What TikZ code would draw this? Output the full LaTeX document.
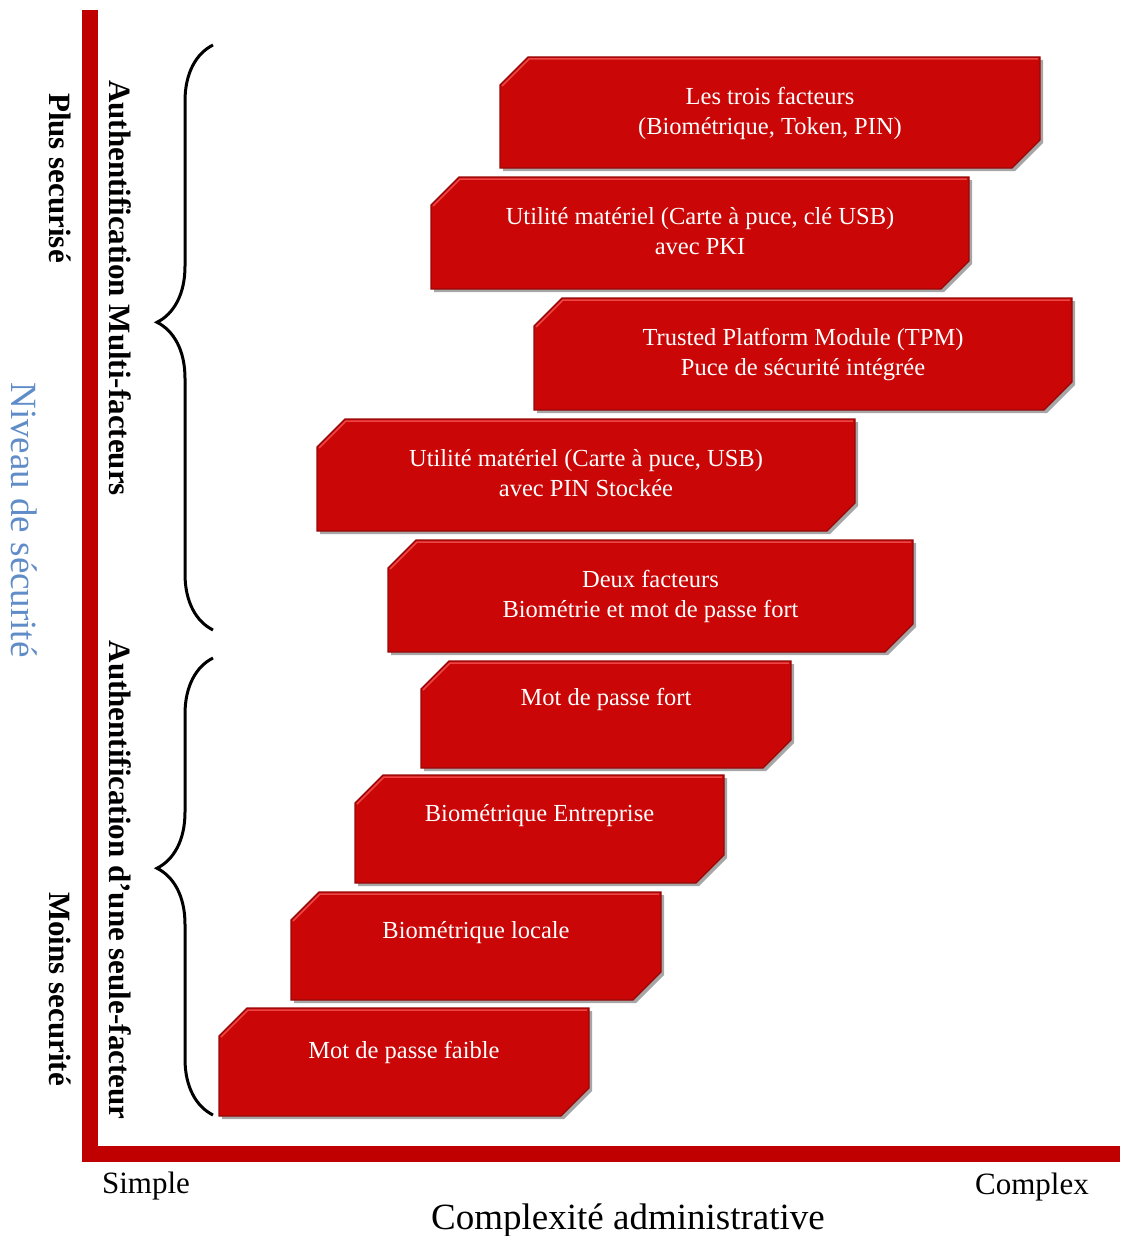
\documentclass[tikz,border=0pt]{standalone}
\usepackage{fontspec}
\setmainfont{Liberation Serif}
\usetikzlibrary{decorations.pathreplacing,shadows}
\definecolor{boxred}{RGB}{202,6,6}
\definecolor{boxedge}{RGB}{150,8,8}
\definecolor{boxlight}{RGB}{236,70,70}
\definecolor{axisred}{RGB}{192,0,0}
\definecolor{levelblue}{RGB}{96,140,200}
\tikzset{
  stepbox/.style  = {rectangle, inner sep=0pt, outer sep=0pt},
  stepfill/.style = {fill=boxred, draw=boxedge, line width=1.2pt, line join=miter,
                     drop shadow={shadow xshift=3pt, shadow yshift=-3pt, opacity=0.35, fill=black}},
  stepshine/.style= {draw=boxlight, line width=1.5pt},
  boxtext/.style  = {anchor=north, align=center, text=white, inner sep=0pt,
                     font=\fontsize{24.5}{30}\selectfont},
  sidelbl/.style  = {rotate=-90, font=\fontsize{31}{31}\selectfont\bfseries, inner sep=0pt},
  axlbl/.style    = {font=\fontsize{31}{31}\selectfont, inner sep=0pt},
  axisbar/.style  = {draw=axisred, line width=16pt, miter limit=10},
  brc/.style      = {draw, line width=3pt, decorate, decoration={brace, amplitude=56pt, aspect=#1}}
}

\begin{document}
\begin{tikzpicture}[x=1pt, y=-1pt]
\useasboundingbox (0,0) rectangle (1120,1236);

% ---- axes ----
\coordinate (ytop) at (90,10);
\coordinate (orig) at (90,1154);
\coordinate (xend) at (1120,1154);
\draw[axisbar] (ytop) -- (orig) -- (xend);

% ---- axis labels ----
\node[axlbl] (simple) at (146,1186) {Simple};
\node[axlbl] (complex) at (1032,1187) {Complex};
\node[axlbl, font=\fontsize{37}{37}\selectfont] (xtitle) at (628,1221) {Complexité administrative};
\node[rotate=-90, text=levelblue, font=\fontsize{37}{37}\selectfont, inner sep=0pt] (ytitle) at (24,520) {Niveau de sécurité};
\node[sidelbl] (plus) at (60,178) {Plus securisé};
\node[sidelbl] (moins) at (60,989) {Moins securité};

% ---- braces ----
\coordinate (b1s) at (213,630);
\coordinate (b1e) at (213,45);
\coordinate (b2s) at (213,1115);
\coordinate (b2e) at (213,658);
\draw[brc=0.526] (b1s) -- (b1e);
\draw[brc=0.54] (b2s) -- (b2e);
\node[sidelbl] (multi) at (120,288) {Authentification Multi-facteurs};
\node[sidelbl] (single) at (120,880) {Authentification d’une seule-facteur};

% ---- steps, top to bottom ----
\node[stepbox, minimum width=540pt, minimum height=111pt] (s1) at (770,112.5) {};
\node[stepbox, minimum width=538pt, minimum height=112pt] (s2) at (700,233) {};
\node[stepbox, minimum width=538pt, minimum height=112pt] (s3) at (803,354) {};
\node[stepbox, minimum width=538pt, minimum height=112pt] (s4) at (586,475) {};
\node[stepbox, minimum width=525pt, minimum height=112pt] (s5) at (650.5,596) {};
\node[stepbox, minimum width=370pt, minimum height=107pt] (s6) at (606,714.5) {};
\node[stepbox, minimum width=369pt, minimum height=108pt] (s7) at (539.5,829) {};
\node[stepbox, minimum width=370pt, minimum height=108pt] (s8) at (476,946) {};
\node[stepbox, minimum width=370pt, minimum height=108pt] (s9) at (404,1062) {};

% chamfered outlines (north west and south east corners cut)
\foreach \i in {1,...,9}{
  \path[stepfill] ([yshift=-28pt]s\i.north west) -- ([xshift=28pt]s\i.north west) -- (s\i.north east)
    -- ([yshift=28pt]s\i.south east) -- ([xshift=-28pt]s\i.south east) -- (s\i.south west) -- cycle;
  \draw[stepshine] ([shift={(2pt,-29pt)}]s\i.north west) -- ([shift={(29pt,-2pt)}]s\i.north west)
    -- ([shift={(-2pt,-2pt)}]s\i.north east);
}

\node[boxtext] (t1) at ([yshift=-30pt]s1.north) {Les trois facteurs\\(Biométrique, Token, PIN)};
\node[boxtext] (t2) at ([yshift=-30pt]s2.north) {Utilité matériel (Carte à puce, clé USB)\\avec PKI};
\node[boxtext] (t3) at ([yshift=-30pt]s3.north) {Trusted Platform Module (TPM)\\Puce de sécurité intégrée};
\node[boxtext] (t4) at ([yshift=-30pt]s4.north) {Utilité matériel (Carte à puce, USB)\\avec PIN Stockée};
\node[boxtext] (t5) at ([yshift=-30pt]s5.north) {Deux facteurs\\Biométrie et mot de passe fort};
\node[boxtext] (t6) at ([yshift=-27pt]s6.north) {Mot de passe fort};
\node[boxtext] (t7) at ([yshift=-29pt]s7.north) {Biométrique Entreprise};
\node[boxtext] (t8) at ([yshift=-29pt]s8.north) {Biométrique locale};
\node[boxtext] (t9) at ([yshift=-33pt]s9.north) {Mot de passe faible};
\end{tikzpicture}
\end{document}
